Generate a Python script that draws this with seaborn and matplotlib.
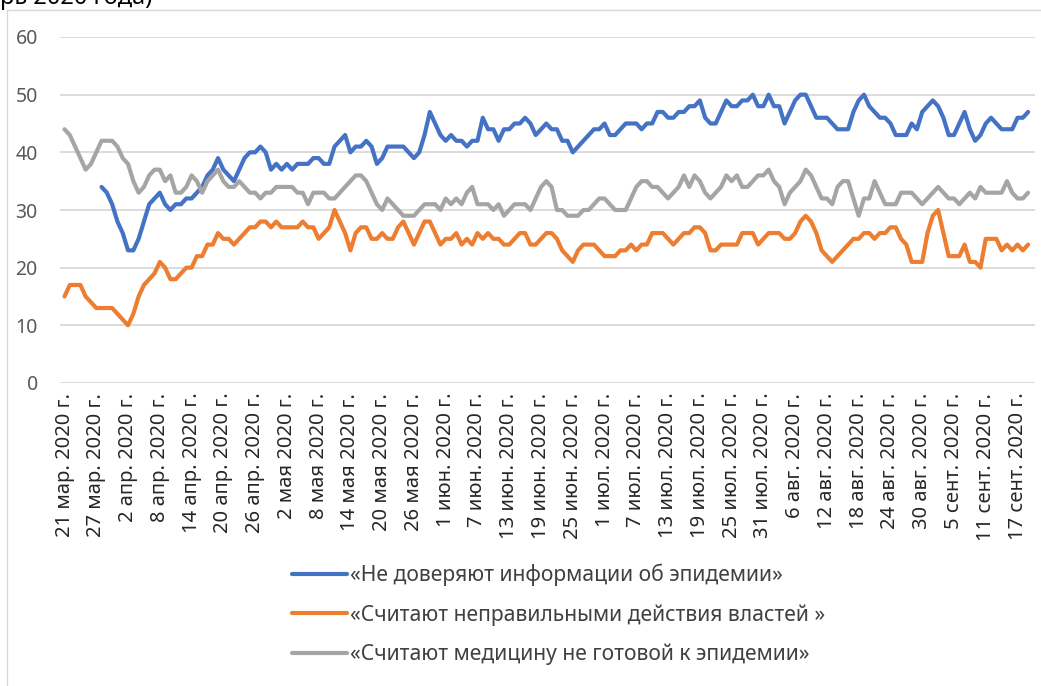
import numpy as np
import pandas as pd
import matplotlib
matplotlib.use("Agg")
import matplotlib.pyplot as plt
import seaborn as sns
from matplotlib.patches import Rectangle

# daily values, 21 Mar 2020 .. 19 Sep 2020
distrust_info = [np.nan] * 7 + [
    34, 33, 31, 28, 26, 23, 23, 25, 28, 31, 32, 33, 31, 30, 31, 31, 32, 32, 33, 34,
    36, 37, 39, 37, 36, 35, 37, 39, 40, 40, 41, 40, 37, 38, 37, 38, 37, 38, 38, 38,
    39, 39, 38, 38, 41, 42, 43, 40, 41, 41, 42, 41, 38, 39, 41, 41, 41, 41, 40, 39,
    40, 43, 47, 45, 43, 42, 43, 42, 42, 41, 42, 42, 46, 44, 44, 42, 44, 44, 45, 45,
    46, 45, 43, 44, 45, 44, 44, 42, 42, 40, 41, 42, 43, 44, 44, 45, 43, 43, 44, 45,
    45, 45, 44, 45, 45, 47, 47, 46, 46, 47, 47, 48, 48, 49, 46, 45, 45, 47, 49, 48,
    48, 49, 49, 50, 48, 48, 50, 48, 48, 45, 47, 49, 50, 50, 48, 46, 46, 46, 45, 44,
    44, 44, 47, 49, 50, 48, 47, 46, 46, 45, 43, 43, 43, 45, 44, 47, 48, 49, 48, 46,
    43, 43, 45, 47, 44, 42, 43, 45, 46, 45, 44, 44, 44, 46, 46, 47]

wrong_actions = [
    15, 17, 17, 17, 15, 14, 13, 13, 13, 13, 12, 11, 10, 12, 15, 17, 18, 19, 21, 20,
    18, 18, 19, 20, 20, 22, 22, 24, 24, 26, 25, 25, 24, 25, 26, 27, 27, 28, 28, 27,
    28, 27, 27, 27, 27, 28, 27, 27, 25, 26, 27, 30, 28, 26, 23, 26, 27, 27, 25, 25,
    26, 25, 25, 27, 28, 26, 24, 26, 28, 28, 26, 24, 25, 25, 26, 24, 25, 24, 26, 25,
    26, 25, 25, 24, 24, 25, 26, 26, 24, 24, 25, 26, 26, 25, 23, 22, 21, 23, 24, 24,
    24, 23, 22, 22, 22, 23, 23, 24, 23, 24, 24, 26, 26, 26, 25, 24, 25, 26, 26, 27,
    27, 26, 23, 23, 24, 24, 24, 24, 26, 26, 26, 24, 25, 26, 26, 26, 25, 25, 26, 28,
    29, 28, 26, 23, 22, 21, 22, 23, 24, 25, 25, 26, 26, 25, 26, 26, 27, 27, 25, 24,
    21, 21, 21, 26, 29, 30, 26, 22, 22, 22, 24, 21, 21, 20, 25, 25, 25, 23, 24, 23,
    24, 23, 24]

medicine_unready = [
    44, 43, 41, 39, 37, 38, 40, 42, 42, 42, 41, 39, 38, 35, 33, 34, 36, 37, 37, 35,
    36, 33, 33, 34, 36, 35, 33, 35, 36, 37, 35, 34, 34, 35, 34, 33, 33, 32, 33, 33,
    34, 34, 34, 34, 33, 33, 31, 33, 33, 33, 32, 32, 33, 34, 35, 36, 36, 35, 33, 31,
    30, 32, 31, 30, 29, 29, 29, 30, 31, 31, 31, 30, 32, 31, 32, 31, 33, 34, 31, 31,
    31, 30, 31, 29, 30, 31, 31, 31, 30, 32, 34, 35, 34, 30, 30, 29, 29, 29, 30, 30,
    31, 32, 32, 31, 30, 30, 30, 32, 34, 35, 35, 34, 34, 33, 32, 33, 34, 36, 34, 36,
    35, 33, 32, 33, 34, 36, 35, 36, 34, 34, 35, 36, 36, 37, 35, 34, 31, 33, 34, 35,
    37, 36, 34, 32, 32, 31, 34, 35, 35, 32, 29, 32, 32, 35, 33, 31, 31, 31, 33, 33,
    33, 32, 31, 32, 33, 34, 33, 32, 32, 31, 32, 33, 32, 34, 33, 33, 33, 33, 35, 33,
    32, 32, 33]

tick_labels = [
    "21 мар. 2020 г.", "27 мар. 2020 г.", "2 апр. 2020 г.", "8 апр. 2020 г.",
    "14 апр. 2020 г.", "20 апр. 2020 г.", "26 апр. 2020 г.", "2 мая 2020 г.",
    "8 мая 2020 г.", "14 мая 2020 г.", "20 мая 2020 г.", "26 мая 2020 г.",
    "1 июн. 2020 г.", "7 июн. 2020 г.", "13 июн. 2020 г.", "19 июн. 2020 г.",
    "25 июн. 2020 г.", "1 июл. 2020 г.", "7 июл. 2020 г.", "13 июл. 2020 г.",
    "19 июл. 2020 г.", "25 июл. 2020 г.", "31 июл. 2020 г.", "6 авг. 2020 г.",
    "12 авг. 2020 г.", "18 авг. 2020 г.", "24 авг. 2020 г.", "30 авг. 2020 г.",
    "5 сент. 2020 г.", "11 сент. 2020 г.", "17 сент. 2020 г."]

series_names = ["«Не доверяют информации об эпидемии»",
                "«Считают неправильными действия властей »",
                "«Считают медицину не готовой к эпидемии»"]
colors = ["#4472C4", "#ED7D31", "#A5A5A5"]

#%%
sns.set_style("white")
plt.rcParams["font.family"] = ["Noto Sans", "DejaVu Sans"]

day = np.arange(len(wrong_actions))
df = pd.DataFrame({"day": day,
                   series_names[0]: distrust_info,
                   series_names[1]: wrong_actions,
                   series_names[2]: medicine_unready})
long = df.melt(id_vars="day", var_name="series", value_name="value")

fig = plt.figure(figsize=(10.41, 6.86), dpi=100)
ax = fig.add_axes([60 / 1041, 1 - 383 / 686, 975 / 1041, 346 / 686])

sns.lineplot(data=long, x="day", y="value", hue="series",
             palette=colors, linewidth=3, legend=False, ax=ax,
             solid_capstyle="round", solid_joinstyle="round")

ax.set_xlim(-0.85, 183.3)
ax.set_ylim(0, 60)
ax.set_yticks(range(0, 61, 10))
ax.set_xticks(range(0, 181, 6))
ax.set_xticklabels(tick_labels, rotation=90, fontsize=14.5, color="#262626")
ax.tick_params(axis="y", labelsize=14, labelcolor="#595959", length=0, pad=16)
ax.tick_params(axis="x", length=0, pad=7)
ax.grid(axis="y", color="#d9d9d9", linewidth=1.3)
ax.set_axisbelow(True)
ax.set_xlabel("")
ax.set_ylabel("")
for s in ax.spines.values():
    s.set_visible(False)

handles = ax.lines[:3]
fig.legend(handles, series_names, loc="upper center",
           bbox_to_anchor=(0.537, 1 - 545 / 686), frameon=False,
           fontsize=15.2, labelcolor="#404040", handlelength=2.6,
           handletextpad=0.15, labelspacing=0.85)

# chart border and the cut-off title above it
fig.patches.append(Rectangle((7 / 1041, -0.05), 1.1, 1 - 10 / 686 + 0.05,
                             transform=fig.transFigure, fill=False,
                             edgecolor="#d9d9d9", linewidth=1))
fig.text(0, 1 - 4 / 686, "рь 2020 года)", ha="left",
         va="baseline", fontsize=17, color="black")

fig.savefig("out.png", dpi=100)
